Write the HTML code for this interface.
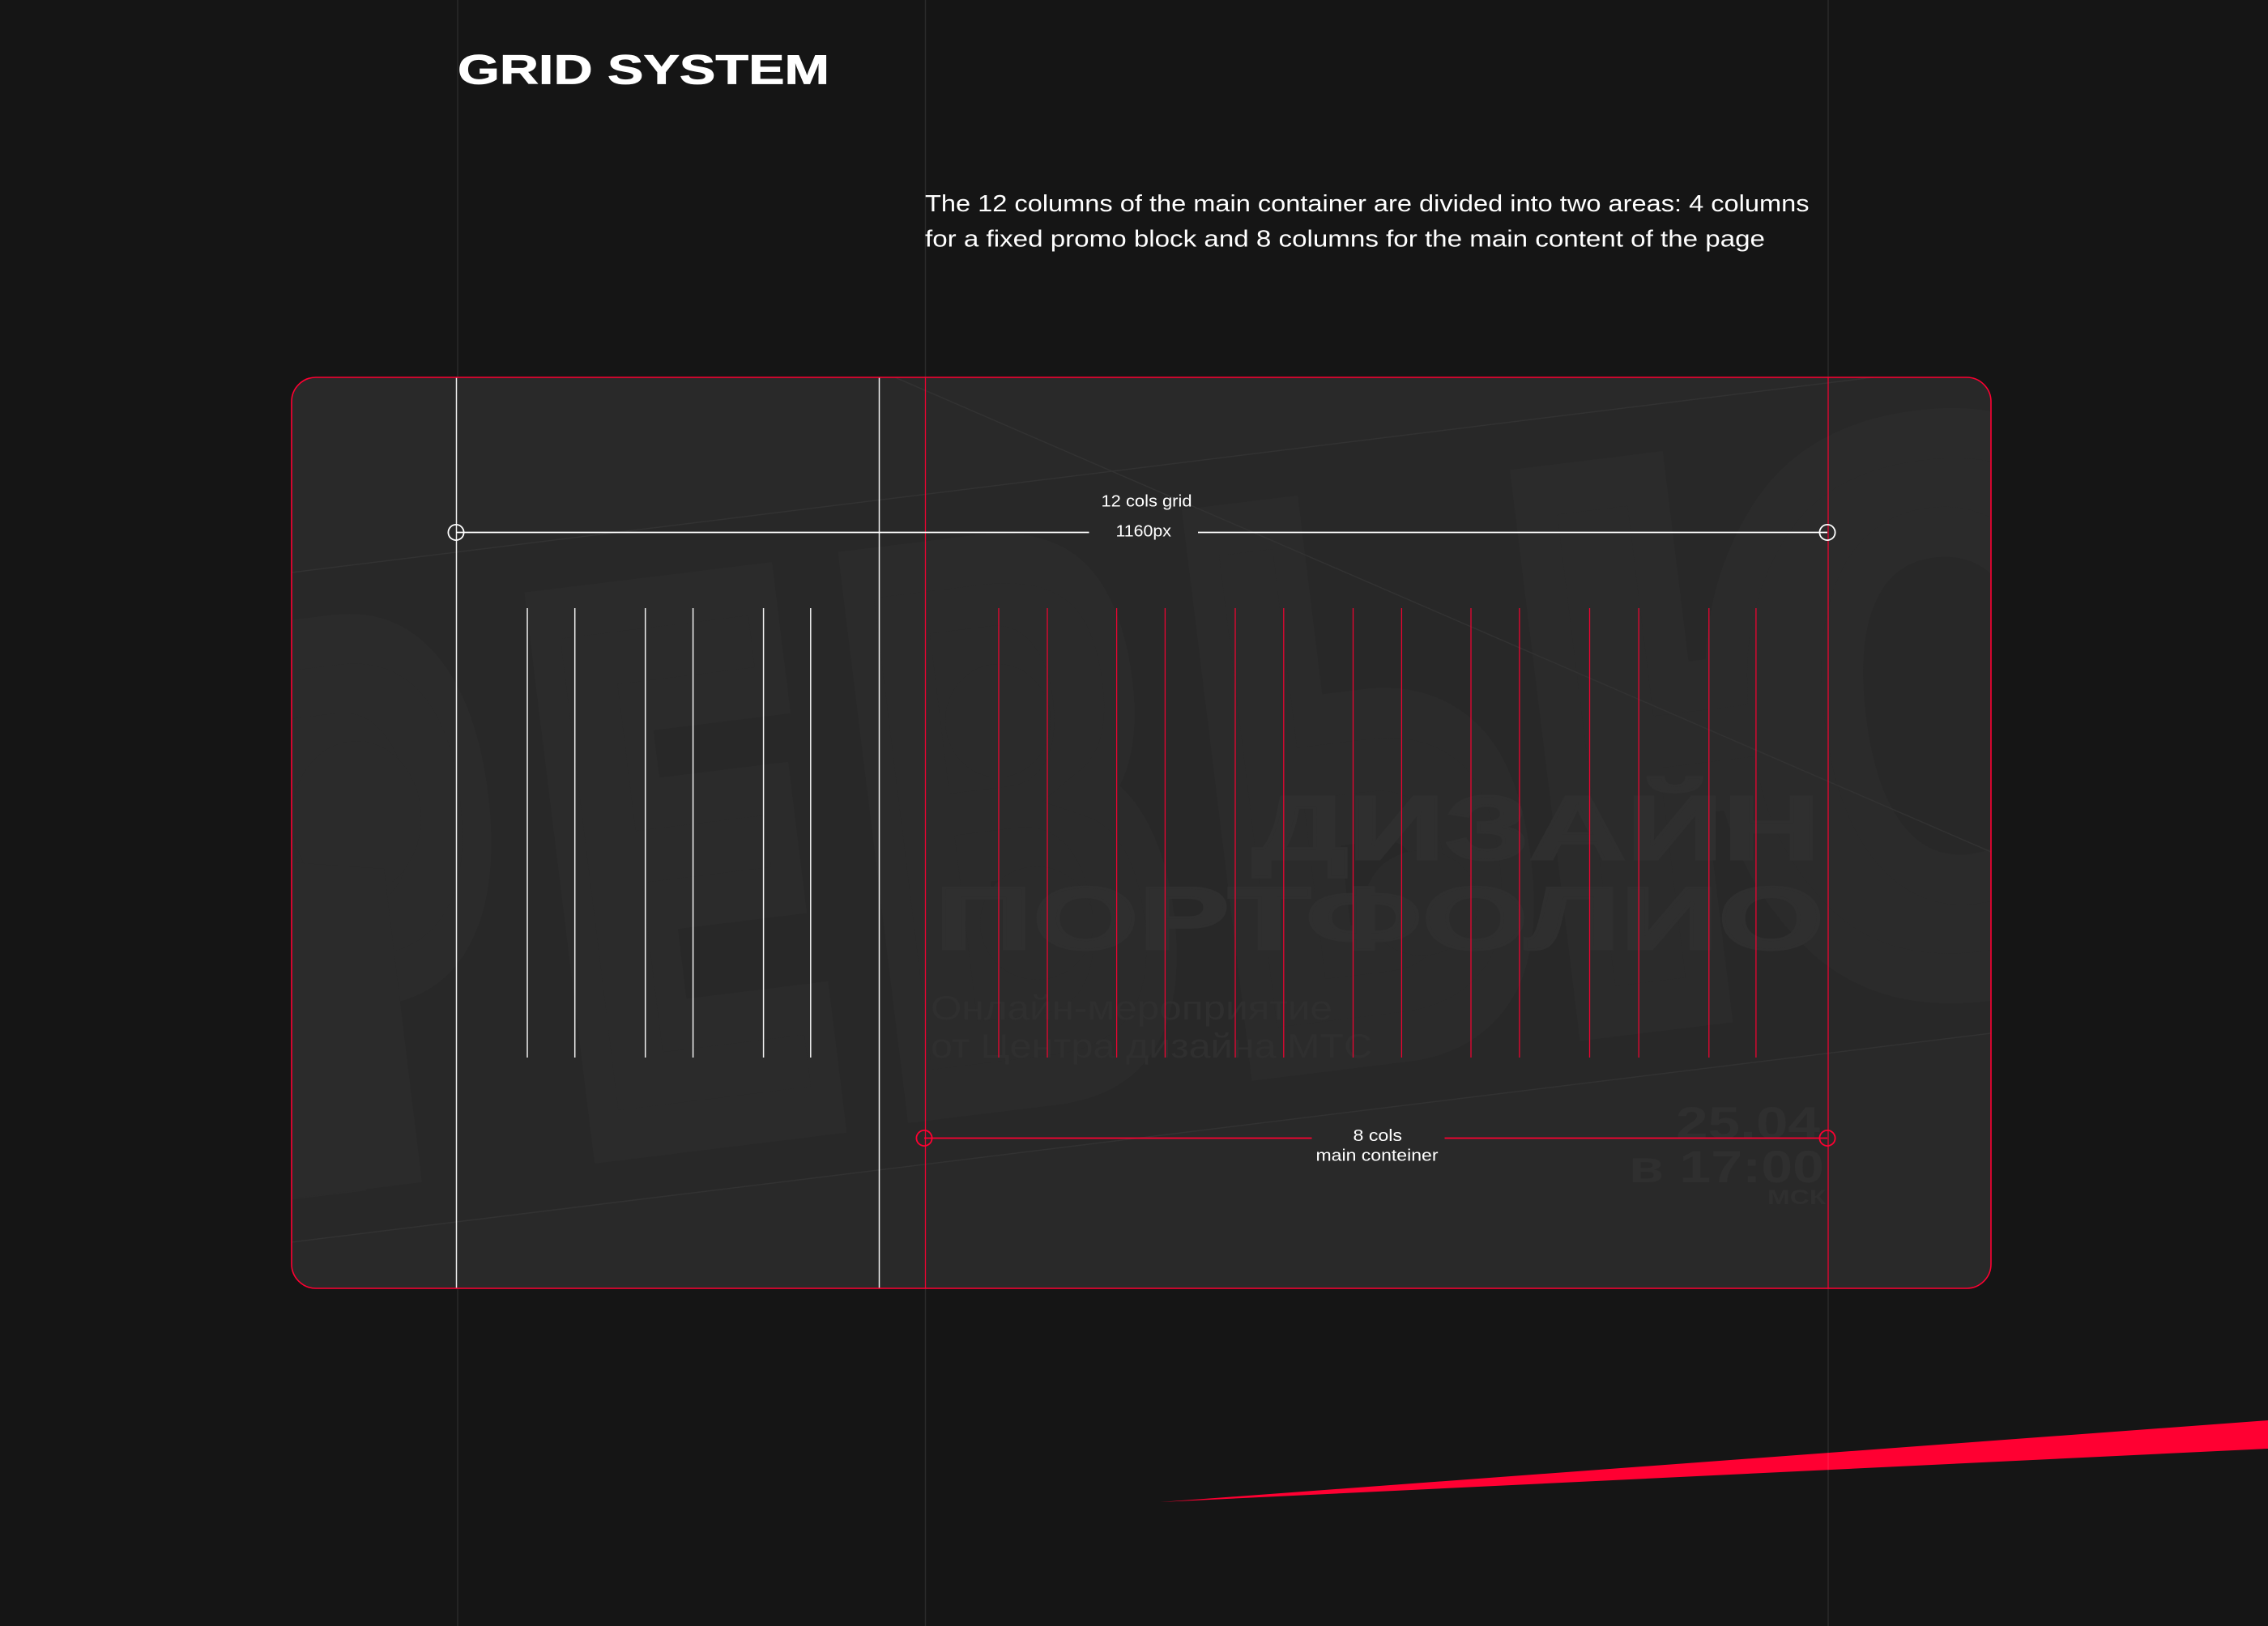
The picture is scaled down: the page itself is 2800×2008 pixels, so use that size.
<!DOCTYPE html>
<html lang="en">
<head>
<meta charset="utf-8">
<title>Grid System</title>
<style>
html,body{margin:0;padding:0;background:#151515;width:2800px;height:2008px;overflow:hidden}
svg{display:block}
text{font-family:"Liberation Sans","DejaVu Sans",sans-serif}
</style>
</head>
<body>
<svg xmlns="http://www.w3.org/2000/svg" width="2800" height="2008" viewBox="0 0 2800 2008">
<defs>
<clipPath id="card"><rect x="360" y="466" width="2098" height="1125" rx="30" ry="30"/></clipPath>
</defs>
<rect width="2800" height="2008" fill="#151515"/>
<polygon points="1432,1855 2800,1754 2800,1789" fill="#ff0032"/>
<g stroke="#ffffff" stroke-opacity=".09" stroke-width="1.5">
<line x1="565" y1="0" x2="565" y2="2008"/>
<line x1="1142.5" y1="0" x2="1142.5" y2="2008"/>
<line x1="2257" y1="0" x2="2257" y2="2008"/>
</g>

<rect x="360" y="466" width="2098" height="1125" rx="30" ry="30" fill="#292929"/>
<g clip-path="url(#card)">
<polygon points="360,707 2458,448 2458,1276 360,1534" fill="#282828"/>
<g fill="#2b2b2b" stroke="#2b2b2b" stroke-width="62" stroke-linejoin="miter" style="font-family:'DejaVu Sans',sans-serif;font-weight:700;font-size:890px">
<text style="font-family:'DejaVu Sans',sans-serif" transform="translate(290,1459) rotate(-7) scale(.57,1)">Р</text>
<text style="font-family:'DejaVu Sans',sans-serif" transform="translate(700,1410) rotate(-7) scale(.6,1)">Е</text>
<text style="font-family:'DejaVu Sans',sans-serif" transform="translate(1087,1360) rotate(-7) scale(.6,1)">В</text>
<text style="font-family:'DejaVu Sans',sans-serif" transform="translate(1510,1308) rotate(-7) scale(.63,1)">Ь</text>
<text style="font-family:'DejaVu Sans',sans-serif" transform="translate(1905,1260) rotate(-7) scale(.83,1)">Ю</text>
</g>
<g fill="#2b2b2b">
<ellipse cx="440" cy="1010" rx="80" ry="95"/>
<polygon points="360,1065 474,1073 521,1460 360,1480"/>
<ellipse cx="1232" cy="890" rx="65" ry="70"/>
<ellipse cx="1280" cy="1140" rx="70" ry="70"/>
<ellipse cx="1755" cy="1115" rx="70" ry="65"/>
</g>
<g stroke="#323232" stroke-width="1.5" fill="none">
<line x1="360" y1="707" x2="2458" y2="448"/>
<line x1="360" y1="1534" x2="2458" y2="1276"/>
<line x1="1105" y1="466" x2="2458" y2="1052"/>
</g>
</g>

<g fill="#2f2f2f" font-weight="700">
<text x="1546" y="1061" font-size="112" textLength="701" lengthAdjust="spacingAndGlyphs" stroke="#2f2f2f" stroke-width="3">ДИЗАЙН</text>
<text x="1154" y="1172" font-size="110" textLength="1098" lengthAdjust="spacingAndGlyphs" stroke="#2f2f2f" stroke-width="3">ПОРТФОЛИО</text>
<text x="2069" y="1406" font-size="56" textLength="178" lengthAdjust="spacingAndGlyphs">25.04</text>
<text x="2011" y="1460" font-size="56" textLength="241" lengthAdjust="spacingAndGlyphs">в 17:00</text>
<text x="2182" y="1487" font-size="25" textLength="72" lengthAdjust="spacingAndGlyphs">МСК</text>
</g>
<g fill="#2f2f2f">
<text x="1149" y="1259" font-size="42" textLength="496" lengthAdjust="spacingAndGlyphs">Онлайн-мероприятие</text>
<text x="1149" y="1306" font-size="42" textLength="545" lengthAdjust="spacingAndGlyphs">от Центра дизайна МТС</text>
</g>

<g stroke="#f0f0f0" stroke-width="1.5">
<line x1="651" y1="751" x2="651" y2="1306"/>
<line x1="709.7" y1="751" x2="709.7" y2="1306"/>
<line x1="796.7" y1="751" x2="796.7" y2="1306"/>
<line x1="855.6" y1="751" x2="855.6" y2="1306"/>
<line x1="942.6" y1="751" x2="942.6" y2="1306"/>
<line x1="1000.8" y1="751" x2="1000.8" y2="1306"/>
<line x1="563.5" y1="466" x2="563.5" y2="1591"/>
<line x1="1085.5" y1="466" x2="1085.5" y2="1591"/>
</g>
<g stroke="#ff0032" stroke-width="1.3" stroke-opacity=".9">
<line x1="1233" y1="751" x2="1233" y2="1306"/>
<line x1="1293" y1="751" x2="1293" y2="1306"/>
<line x1="1378.6" y1="751" x2="1378.6" y2="1306"/>
<line x1="1438.4" y1="751" x2="1438.4" y2="1306"/>
<line x1="1525" y1="751" x2="1525" y2="1306"/>
<line x1="1584.8" y1="751" x2="1584.8" y2="1306"/>
<line x1="1670.5" y1="751" x2="1670.5" y2="1306"/>
<line x1="1730.4" y1="751" x2="1730.4" y2="1306"/>
<line x1="1816" y1="751" x2="1816" y2="1306"/>
<line x1="1875.9" y1="751" x2="1875.9" y2="1306"/>
<line x1="1962.5" y1="751" x2="1962.5" y2="1306"/>
<line x1="2023.2" y1="751" x2="2023.2" y2="1306"/>
<line x1="2109.8" y1="751" x2="2109.8" y2="1306"/>
<line x1="2167.9" y1="751" x2="2167.9" y2="1306"/>
<line x1="1142.5" y1="466" x2="1142.5" y2="1591"/>
<line x1="2257" y1="466" x2="2257" y2="1591"/>
</g>

<rect x="360" y="466" width="2098" height="1125" rx="30" ry="30" fill="none" stroke="#ff0032" stroke-width="1.6"/>

<g stroke="#ffffff" stroke-width="1.8" fill="none">
<line x1="563" y1="657.5" x2="1344.5" y2="657.5"/>
<line x1="1479" y1="657.5" x2="2256" y2="657.5"/>
<circle cx="563" cy="657.5" r="9.6"/>
<circle cx="2256" cy="657.5" r="9.6"/>
</g>
<g stroke="#ff0032" stroke-width="1.8" fill="none">
<line x1="1141" y1="1405.5" x2="1619.5" y2="1405.5"/>
<line x1="1783.5" y1="1405.5" x2="2256" y2="1405.5"/>
<circle cx="1141" cy="1405.5" r="9.6"/>
<circle cx="2256" cy="1405.5" r="9.6"/>
</g>

<g fill="#ffffff">
<text x="1359.5" y="625.5" font-size="20" textLength="112" lengthAdjust="spacingAndGlyphs">12 cols grid</text>
<text x="1377.5" y="662.5" font-size="20" textLength="68.5" lengthAdjust="spacingAndGlyphs">1160px</text>
<text x="1670.5" y="1409" font-size="20" textLength="60.5" lengthAdjust="spacingAndGlyphs">8 cols</text>
<text x="1624.5" y="1433.5" font-size="20" textLength="151" lengthAdjust="spacingAndGlyphs">main conteiner</text>
<text x="565" y="103.5" font-size="51" font-weight="700" textLength="459" lengthAdjust="spacingAndGlyphs" stroke="#ffffff" stroke-width=".8">GRID SYSTEM</text>
<text x="1142" y="261" font-size="29" textLength="1091.5" lengthAdjust="spacingAndGlyphs">The 12 columns of the main container are divided into two areas: 4 columns</text>
<text x="1142" y="304.5" font-size="29" textLength="1037" lengthAdjust="spacingAndGlyphs">for a fixed promo block and 8 columns for the main content of the page</text>
</g>
</svg>
</body>
</html>
